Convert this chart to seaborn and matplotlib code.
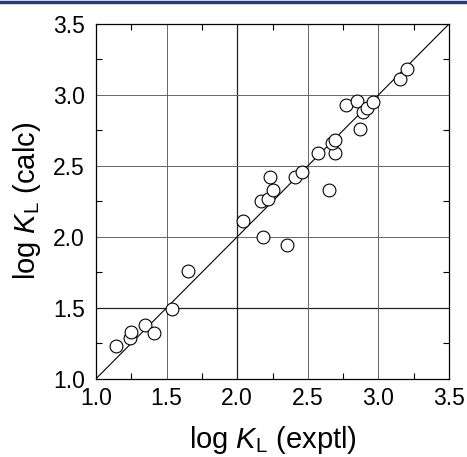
import numpy as np
import pandas as pd
import matplotlib
matplotlib.use("Agg")
import matplotlib.pyplot as plt
from matplotlib.lines import Line2D
from matplotlib.ticker import MultipleLocator
import seaborn as sns

# ── data ────────────────────────────────────────────────────────────────────
log_k_exptl = [1.14, 1.24, 1.25, 1.35, 1.41, 1.54, 1.65,
               2.04, 2.18, 2.35, 2.17, 2.22, 2.25, 2.23, 2.41, 2.46,
               2.57, 2.65, 2.69, 2.67, 2.69, 2.77, 2.85, 2.87, 2.89,
               2.92, 2.96, 3.15, 3.20]
log_k_calc = [1.23, 1.29, 1.33, 1.38, 1.32, 1.49, 1.76,
              2.11, 2.00, 1.94, 2.25, 2.27, 2.33, 2.42, 2.42, 2.46,
              2.59, 2.33, 2.59, 2.66, 2.68, 2.93, 2.96, 2.76, 2.88,
              2.91, 2.95, 3.11, 3.18]
ideal = [1.0, 3.5]
ticks = [1.0, 1.5, 2.0, 2.5, 3.0, 3.5]

df = pd.DataFrame({"exptl": log_k_exptl, "calc": log_k_calc})

sns.set_style("ticks", {"text.color": "black", "axes.labelcolor": "black",
                        "xtick.color": "black", "ytick.color": "black",
                        "axes.edgecolor": "black"})
plt.rcParams["font.family"] = ["Liberation Sans", "DejaVu Sans"]
plt.rcParams["mathtext.fontset"] = "custom"
plt.rcParams["mathtext.rm"] = "Liberation Sans"
plt.rcParams["mathtext.it"] = "Liberation Sans:italic"

fig = plt.figure(figsize=(4.67, 4.57), dpi=100)
ax = fig.add_axes([0.2056, 0.1713, 0.7559, 0.7762])

# grid
for v in ticks[1:-1]:
    c = "#222222" if v == 2.0 else "#666666"
    ax.axvline(v, color=c, lw=0.9 if v == 2.0 else 0.7, zorder=0)
    c = "#222222" if v == 1.5 else "#666666"
    ax.axhline(v, color=c, lw=0.9 if v == 1.5 else 0.7, zorder=0)

sns.lineplot(x=ideal, y=ideal, color="black", lw=0.8, ax=ax, zorder=1)
sns.scatterplot(data=df, x="exptl", y="calc", marker="o", s=85,
                facecolor="white", edgecolor="black", linewidth=0.8,
                ax=ax, zorder=2)

ax.set_xlim(1.0, 3.5)
ax.set_ylim(1.0, 3.5)
ax.set_xticks(ticks)
ax.set_yticks(ticks)
ax.xaxis.set_minor_locator(MultipleLocator(0.25))
ax.yaxis.set_minor_locator(MultipleLocator(0.25))
ax.tick_params(which="both", direction="in", top=True, right=True,
               color="black", labelcolor="black")
ax.tick_params(which="major", length=0, labelsize=16.5)
ax.tick_params(axis="x", which="major", pad=6)
ax.tick_params(axis="y", which="major", pad=8)
ax.tick_params(which="minor", length=4, width=0.8)
for sp in ax.spines.values():
    sp.set_linewidth(0.9)
    sp.set_color("black")

ax.set_xlabel(r"log $K_{\mathrm{L}}$ (exptl)", fontsize=21, labelpad=10,
              color="black")
ax.set_ylabel(r"log $K_{\mathrm{L}}$ (calc)", fontsize=21, labelpad=7,
              color="black")

# journal header rule
fig.add_artist(Line2D([0, 1], [0.9965, 0.9965], transform=fig.transFigure,
                      color="#2b3a78", lw=2.5))

fig.savefig("out.png", dpi=100)
plt.close(fig)
